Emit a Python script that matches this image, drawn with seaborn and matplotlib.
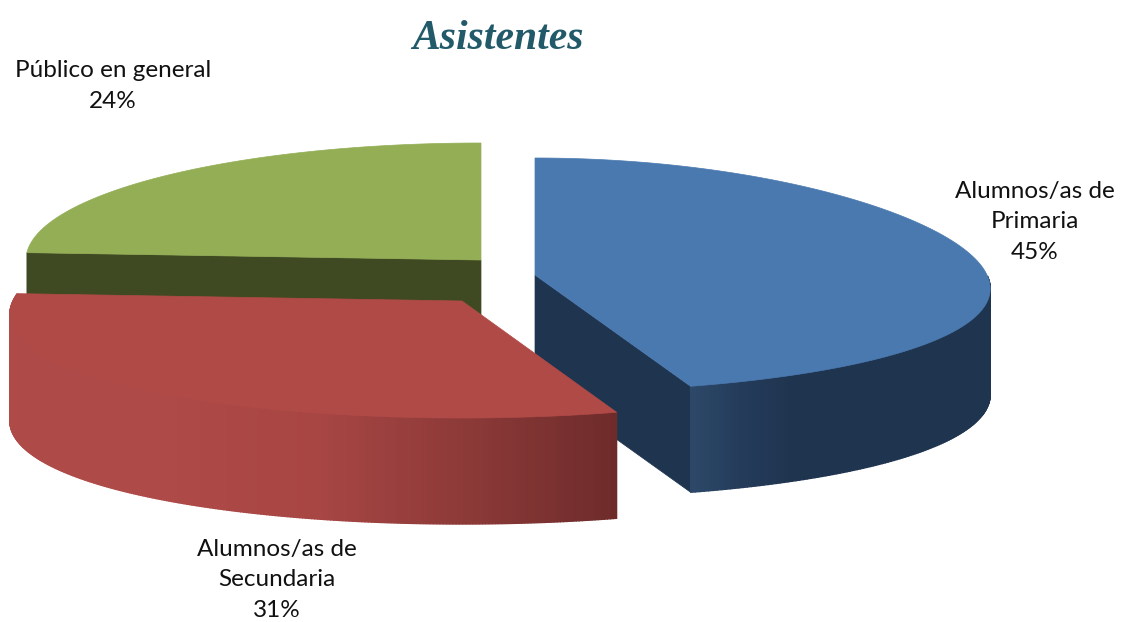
import numpy as np
import seaborn as sns
import matplotlib.pyplot as plt

# datos del grafico
categorias = ['Alumnos/as de\nPrimaria', 'Alumnos/as de\nSecundaria', 'Público en general']
valores = [45, 31, 24]

# colores: cara superior y corte interior
color_top = ['#4A79B0', '#B04A47', '#93AE55']
color_corte = ['#1F344F', '#7A3331', '#3F4A22']

# geometria del pastel en pixeles (vista 3D inclinada)
centros = [(535, 275), (462, 301), (481, 260)]
radios = [452, 449, 455]
b = 117
persp = [0.12, 0.12, 0.0]  # perspectiva: lo cercano se ve mas ancho
alto = 106

# posiciones de las etiquetas
pos_labels = [(1035, 222), (277, 580), (113, 86)]

sns.set_theme(style='white')
plt.rcParams['font.family'] = ['Lato', 'DejaVu Sans']

fig = plt.figure(figsize=(11.26, 6.22), dpi=100)
ax = fig.add_axes([0, 0, 1, 1])
ax.set_xlim(0, 1126)
ax.set_ylim(622, 0)
ax.axis('off')


def borde(i, theta):
    x = centros[i][0] + radios[i] * np.sin(theta) * (1 - persp[i] * np.cos(theta))
    y = centros[i][1] - b * np.cos(theta)
    return x, y


# gradientes del lateral exterior (de izquierda a derecha)
grad_azul = sns.blend_palette(['#2C4768', '#243C5A', '#1F344F', '#1F344F', '#1F344F', '#1F344F', '#1F344F'], 256)
grad_rojo = sns.blend_palette(['#AE4A47', '#AE4A47', '#A84644', '#8C3A38', '#6D2B2A'], 256)
gradientes = [grad_azul, grad_rojo, None]

# angulos de cada porcion, horario desde las 12
fin = np.cumsum(valores) / np.sum(valores) * 2 * np.pi
ini = np.concatenate([[0], fin[:-1]])

# orden de dibujo: verde (atras), azul, rojo (delante)
for capa, i in enumerate([2, 0, 1]):
    c = centros[i]
    t = np.linspace(ini[i], fin[i], 300)
    x, y = borde(i, t)

    # corte interior que se ve de frente (azul: borde final, verde: borde inicial)
    if i != 1:
        t_corte = fin[i] if i == 0 else ini[i]
        xc, yc = borde(i, t_corte)
        ax.fill([c[0], xc, xc, c[0]], [c[1], yc, yc + alto, c[1] + alto],
                color=color_corte[i], lw=0.5, zorder=capa + 1)

    # lateral exterior, solo la parte de delante
    if gradientes[i] is not None:
        vis = t > np.pi / 2
        xv, yv = x[vis], y[vis]
        x0, x1 = xv.min(), xv.max()
        for j in range(len(xv) - 1):
            xm = (xv[j] + xv[j + 1]) / 2
            col = gradientes[i][int((xm - x0) / (x1 - x0) * 255)]
            ax.fill([xv[j], xv[j + 1], xv[j + 1], xv[j]],
                    [yv[j], yv[j + 1], yv[j + 1] + alto, yv[j] + alto],
                    color=col, lw=1.0, zorder=capa + 1)

    # cara superior
    ax.fill(np.r_[c[0], x], np.r_[c[1], y], color=color_top[i], lw=0.5, zorder=capa + 1.5)

# etiquetas
for lab, val, (px, py) in zip(categorias, valores, pos_labels):
    ax.text(px, py, f'{lab}\n{val}%', ha='center', va='center', fontsize=17.5,
            color='#111111', linespacing=1.55, zorder=10)

ax.text(498, 39, 'Asistentes', ha='center', va='center', fontsize=30, style='italic',
        weight='bold', family='Liberation Serif', color='#225A6A', zorder=10)

fig.savefig('out.png', dpi=100)
